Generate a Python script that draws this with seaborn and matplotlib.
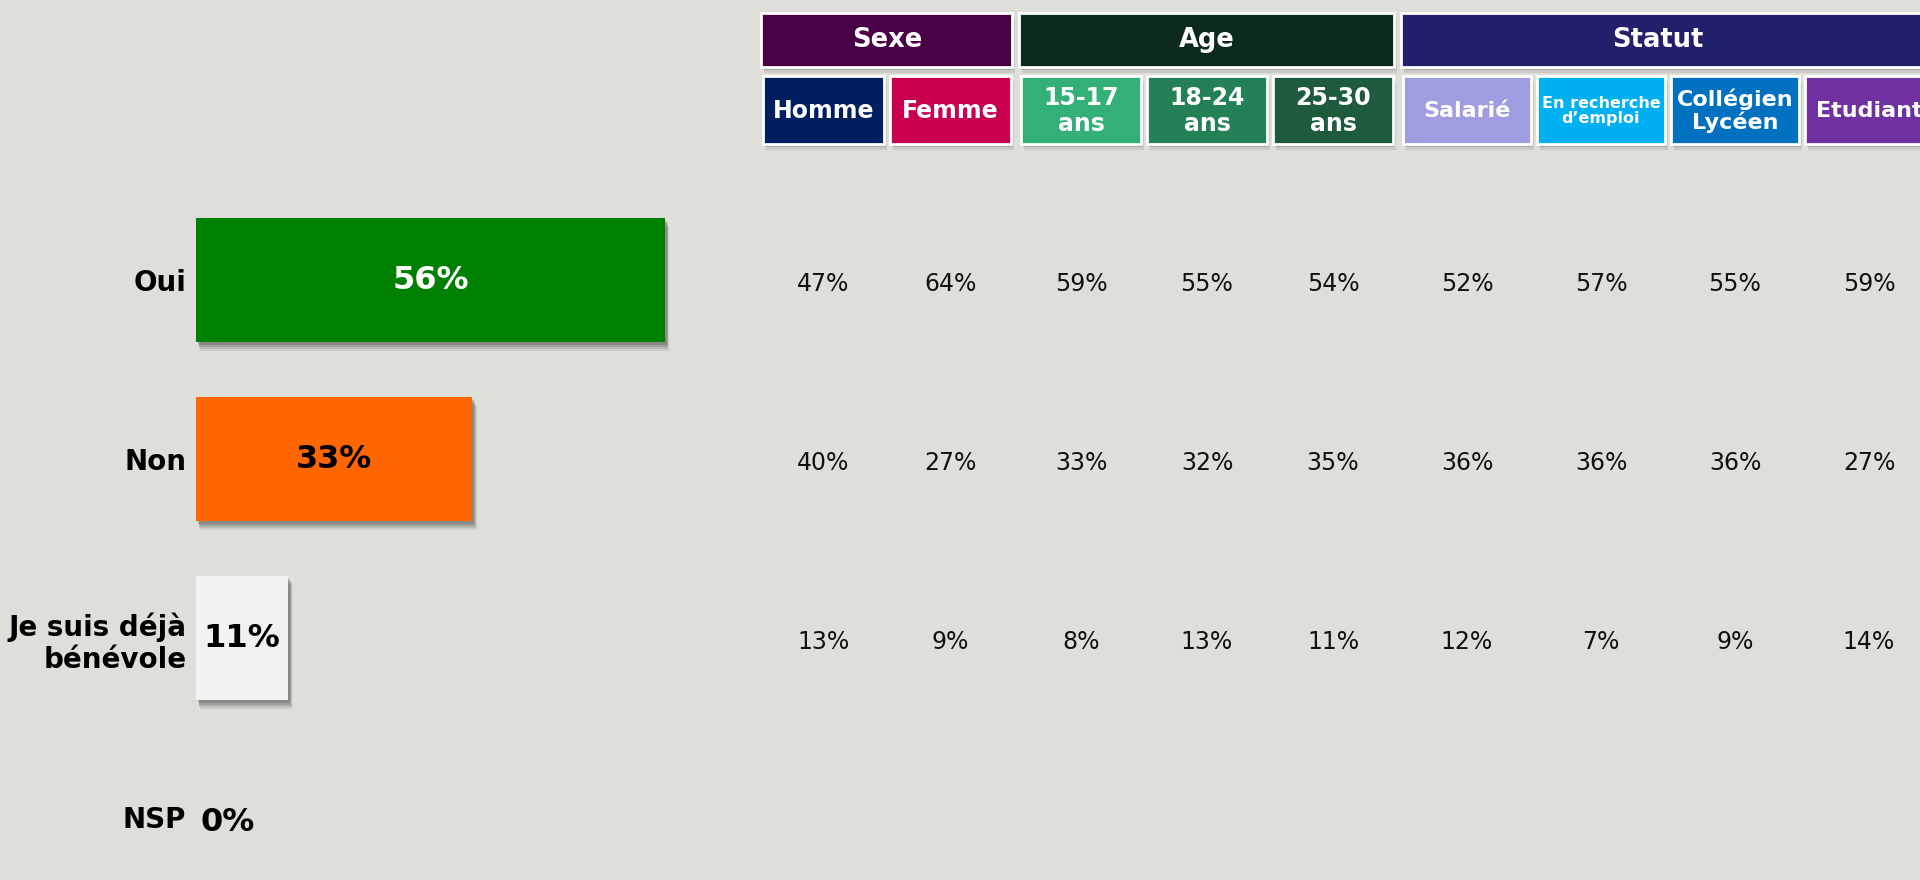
import numpy as np
import pandas as pd
import matplotlib.pyplot as plt
import matplotlib.patheffects as pe
from matplotlib.patches import Rectangle
from matplotlib.transforms import blended_transform_factory
import seaborn as sns

# réponses globales
answers = ['Oui', 'Non', 'Je suis déjà\nbénévole', 'NSP']
total = [56, 33, 11, 0]
bar_colors = ['#008000', '#ff6600', '#f2f2f2', '#d9d9d9']
value_colors = ['white', 'black', 'black', 'black']

# groupes et sous-groupes
groups = ['Sexe', 'Age', 'Statut']
group_colors = ['#4a0044', '#0c2a1b', '#22206a']
sub_labels = [['Homme', 'Femme'],
              ['15-17\nans', '18-24\nans', '25-30\nans'],
              ['Salarié', 'En recherche\nd’emploi', 'Collégien\nLycéen', 'Etudiant']]
sub_colors = [['#001f5f', '#c8004f'],
              ['#33b077', '#248155', '#1d5b3c'],
              ['#9e9ddf', '#00b0f0', '#0070c0', '#7030a0']]

# % par sous-groupe
oui = [47, 64, 59, 55, 54, 52, 57, 55, 59]
non = [40, 27, 33, 32, 35, 36, 36, 36, 27]
deja = [13, 9, 8, 13, 11, 12, 7, 9, 14]

bg = '#dfdfd9'
sns.set_style('white')
plt.rcParams['font.family'] = ['DejaVu Sans']

W, H = 1920, 880
row0, pitch = 280, 179
fig = plt.figure(figsize=(W / 100, H / 100), dpi=100, facecolor=bg)

# barres
ax = fig.add_axes([196 / W, 0, (760 - 196) / W, 1])
ax.set_facecolor('none')
df = pd.DataFrame({'answer': answers, 'pct': total})
sns.barplot(data=df, x='pct', y='answer', hue='answer', palette=bar_colors,
            orient='h', width=124 / pitch, ax=ax, legend=False, saturation=1,
            linewidth=0, edgecolor='none')
ax.set_xlim(0, (760 - 196) / 8.375)
ax.set_ylim((H - row0) / pitch, -row0 / pitch)
shadow = [pe.SimplePatchShadow(offset=(3, -6.5), shadow_rgbFace='#555', alpha=0.12),
          pe.SimplePatchShadow(offset=(2.5, -5), shadow_rgbFace='#555', alpha=0.18),
          pe.SimplePatchShadow(offset=(2, -3.5), shadow_rgbFace='#555', alpha=0.25),
          pe.SimplePatchShadow(offset=(1.5, -2), shadow_rgbFace='#555', alpha=0.3),
          pe.Normal()]
for p in ax.patches:
    if p.get_width() > 0:
        p.set_path_effects(shadow)
for s in ax.spines.values():
    s.set_visible(False)
ax.set_xlabel('')
ax.set_ylabel('')
ax.set_xticks([])
ax.tick_params(axis='y', length=0, pad=7)
for t in ax.get_yticklabels():
    t.set_fontsize(20)
    t.set_fontweight('bold')
    t.set_color('black')
for i, v in enumerate(total):
    if v > 0:
        ax.text(v / 2, i, f'{v}%', ha='center', va='center', fontsize=23,
                fontweight='bold', color=value_colors[i])
    else:
        ax.annotate(f'{v}%', (0, i), xytext=(3, -4), textcoords='offset points',
                    ha='left', va='center', fontsize=23, fontweight='bold',
                    color=value_colors[i])

# en-têtes
hax = fig.add_axes([0, 0, 1, 1])
hax.set_xlim(0, W)
hax.set_ylim(H, 0)
hax.axis('off')
hax.patch.set_visible(False)

box_w = [121, 120, 128]
box_shadow = [pe.SimplePatchShadow(offset=(2, -4), shadow_rgbFace='#555', alpha=0.15),
              pe.SimplePatchShadow(offset=(1.5, -2.5), shadow_rgbFace='#555', alpha=0.25),
              pe.Normal()]
centers = []
x = 763
for g, name in enumerate(groups):
    left = x
    for k, lab in enumerate(sub_labels[g]):
        hax.add_patch(Rectangle((x, 76), box_w[g], 68, facecolor=sub_colors[g][k],
                                edgecolor='white', lw=2, path_effects=box_shadow))
        small = lab.startswith('En recherche')
        hax.text(x + box_w[g] / 2, 111, lab, ha='center', va='center',
                 fontsize=11.5 if small else (16 if g == 2 else 17), fontweight='bold',
                 color='white', linespacing=1.05 if small else 1.1)
        centers.append(x + box_w[g] / 2)
        x += box_w[g] + 6
    right = x - 6
    hax.add_patch(Rectangle((left - 2, 13), right - left + 3, 54, facecolor=group_colors[g],
                            edgecolor='white', lw=2, path_effects=box_shadow))
    hax.text((left + right) / 2 if g < 2 else left + 255, 40, name, ha='center', va='center',
             fontsize=18.5, fontweight='bold', color='white')
    x += 4

# tableau des valeurs
trans = blended_transform_factory(hax.transData, ax.transData)
for r, vals in enumerate([oui, non, deja]):
    for c, v in enumerate(vals):
        hax.text(centers[c], r + 4 / pitch, f'{v}%', transform=trans, ha='center',
                 va='center', fontsize=17, color='#111111')

fig.savefig('out.png', dpi=100, facecolor=bg)
